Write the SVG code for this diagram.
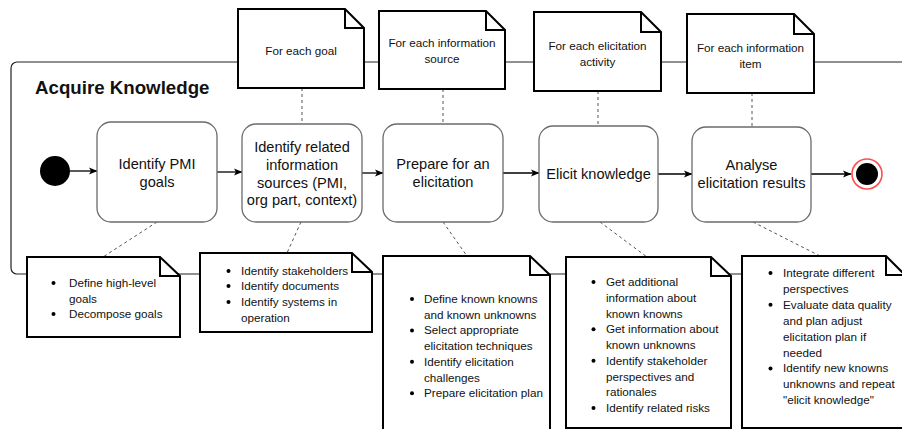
<svg xmlns="http://www.w3.org/2000/svg" width="902" height="429" viewBox="0 0 902 429">
<defs>
<style>
.container{fill:none;stroke:#222;stroke-width:1.2}
.act{fill:#fff;stroke:#6b6b6b;stroke-width:1.3}
.note{fill:#fff;stroke:#000;stroke-width:2;stroke-linejoin:miter}
.fold{fill:none;stroke:#000;stroke-width:2}
.flow{fill:none;stroke:#000;stroke-width:1.3}
.dash{fill:none;stroke:#555;stroke-width:1;stroke-dasharray:3 3}
text{font-family:"Liberation Sans",Arial,Helvetica,sans-serif;fill:#111}
.title{font-size:18.7px;font-weight:bold}
.at{font-size:14.6px;text-anchor:middle}
.nt{font-size:11.7px}
.ntc{font-size:11.7px;text-anchor:middle}
.bul{fill:#000}
</style>
<marker id="arr" markerWidth="9" markerHeight="8" refX="8" refY="4" orient="auto" markerUnits="userSpaceOnUse">
<path d="M0,0.5 L8.5,4 L0,7.5 L2,4 z" fill="#000"/>
</marker>
</defs>

<g id="container">
<rect class="container" x="11" y="62" width="1000" height="212" rx="6"/>
<text class="title" x="35" y="94">Acquire Knowledge</text>
</g>

<g id="connectors">
<line class="flow" x1="70" y1="171" x2="97" y2="171" marker-end="url(#arr)"/>
<line class="flow" x1="217" y1="172" x2="242" y2="172" marker-end="url(#arr)"/>
<line class="flow" x1="362" y1="173" x2="383" y2="173" marker-end="url(#arr)"/>
<line class="flow" x1="503" y1="173" x2="539" y2="173" marker-end="url(#arr)"/>
<line class="flow" x1="658" y1="174" x2="692" y2="174" marker-end="url(#arr)"/>
<line class="flow" x1="811" y1="174" x2="851" y2="174" marker-end="url(#arr)"/>
<line class="dash" x1="302" y1="88" x2="302" y2="124"/>
<line class="dash" x1="443" y1="89" x2="443" y2="124"/>
<line class="dash" x1="598" y1="91" x2="598" y2="126"/>
<line class="dash" x1="752" y1="93" x2="752" y2="127"/>
<line class="dash" x1="157" y1="222" x2="103" y2="257"/>
<line class="dash" x1="301" y1="222" x2="287" y2="253"/>
<line class="dash" x1="443" y1="222" x2="467" y2="256"/>
<line class="dash" x1="600" y1="222" x2="647" y2="257"/>
<line class="dash" x1="753" y1="222" x2="820" y2="256"/>
</g>

<g id="start">
<circle cx="55" cy="171" r="15" fill="#000"/>
</g>

<g id="end">
<circle cx="867" cy="174" r="15" fill="#fff" stroke="#ff4d4d" stroke-width="1.6"/>
<circle cx="867" cy="174" r="11" fill="#000"/>
</g>

<g id="act1">
<rect class="act" x="97" y="122" width="120" height="100" rx="14"/>
<text class="at" x="157" y="169">Identify PMI</text>
<text class="at" x="157" y="187">goals</text>
</g>
<g id="act2">
<rect class="act" x="242" y="124" width="120" height="98" rx="14"/>
<text class="at" x="302" y="152">Identify related</text>
<text class="at" x="302" y="170">information</text>
<text class="at" x="302" y="188">sources (PMI,</text>
<text class="at" x="302" y="205">org part, context)</text>
</g>
<g id="act3">
<rect class="act" x="383" y="124" width="120" height="98" rx="14"/>
<text class="at" x="443" y="169">Prepare for an</text>
<text class="at" x="443" y="187">elicitation</text>
</g>
<g id="act4">
<rect class="act" x="539" y="126" width="119" height="96" rx="14"/>
<text class="at" x="598.5" y="179">Elicit knowledge</text>
</g>
<g id="act5">
<rect class="act" x="692" y="127" width="119" height="95" rx="14"/>
<text class="at" x="751.5" y="170">Analyse</text>
<text class="at" x="751.5" y="188">elicitation results</text>
</g>

<g id="top1">
<path class="note" d="M238,9 H345 L364,28 V88 H238 Z"/>
<path class="fold" d="M345,9 V28 H364"/>
<text class="ntc" x="301" y="55">For each goal</text>
</g>
<g id="top2">
<path class="note" d="M379,11 H486 L505,30 V89 H379 Z"/>
<path class="fold" d="M486,11 V30 H505"/>
<text class="ntc" x="442" y="47">For each information</text>
<text class="ntc" x="442" y="63">source</text>
</g>
<g id="top3">
<path class="note" d="M534,12 H641 L661,32 V91 H534 Z"/>
<path class="fold" d="M641,12 V32 H661"/>
<text class="ntc" x="597.5" y="50">For each elicitation</text>
<text class="ntc" x="597.5" y="66">activity</text>
</g>
<g id="top4">
<path class="note" d="M687,14 H794 L814,34 V93 H687 Z"/>
<path class="fold" d="M794,14 V34 H814"/>
<text class="ntc" x="750.5" y="52">For each information</text>
<text class="ntc" x="750.5" y="68">item</text>
</g>

<g id="note1">
<path class="note" d="M27,257 H160 L180,276 V337 H27 Z"/>
<path class="fold" d="M160,257 V276 H180"/>
<circle class="bul" cx="53.5" cy="283" r="2"/>
<text class="nt" x="69" y="287">Define high-level</text>
<text class="nt" x="69" y="303">goals</text>
<circle class="bul" cx="53.5" cy="314" r="2"/>
<text class="nt" x="69" y="318">Decompose goals</text>
</g>
<g id="note2">
<path class="note" d="M200,253 H352 L372,272 V332 H200 Z"/>
<path class="fold" d="M352,253 V272 H372"/>
<circle class="bul" cx="228.5" cy="271" r="2"/>
<text class="nt" x="241" y="275">Identify stakeholders</text>
<circle class="bul" cx="228.5" cy="286" r="2"/>
<text class="nt" x="241" y="290">Identify documents</text>
<circle class="bul" cx="228.5" cy="302" r="2"/>
<text class="nt" x="241" y="306">Identify systems in</text>
<text class="nt" x="241" y="322">operation</text>
</g>
<g id="note3">
<path class="note" d="M383,256 H530 L550,275 V440 H383 Z"/>
<path class="fold" d="M530,256 V275 H550"/>
<circle class="bul" cx="412" cy="299" r="2"/>
<text class="nt" x="424" y="303">Define known knowns</text>
<text class="nt" x="424" y="318.7">and known unknowns</text>
<circle class="bul" cx="412" cy="330.4" r="2"/>
<text class="nt" x="424" y="334.4">Select appropriate</text>
<text class="nt" x="424" y="350.1">elicitation techniques</text>
<circle class="bul" cx="412" cy="361.8" r="2"/>
<text class="nt" x="424" y="365.8">Identify elicitation</text>
<text class="nt" x="424" y="381.5">challenges</text>
<circle class="bul" cx="412" cy="393.2" r="2"/>
<text class="nt" x="424" y="397.2">Prepare elicitation plan</text>
</g>
<g id="note4">
<path class="note" d="M566,257 H711 L731,276 V428 H566 Z"/>
<path class="fold" d="M711,257 V276 H731"/>
<circle class="bul" cx="593.5" cy="282" r="2"/>
<text class="nt" x="606" y="286">Get additional</text>
<text class="nt" x="606" y="301.8">information about</text>
<text class="nt" x="606" y="317.5">known knowns</text>
<circle class="bul" cx="593.5" cy="329.3" r="2"/>
<text class="nt" x="606" y="333.3">Get information about</text>
<text class="nt" x="606" y="349">known unknowns</text>
<circle class="bul" cx="593.5" cy="360.8" r="2"/>
<text class="nt" x="606" y="364.8">Identify stakeholder</text>
<text class="nt" x="606" y="380.5">perspectives and</text>
<text class="nt" x="606" y="396.3">rationales</text>
<circle class="bul" cx="593.5" cy="408" r="2"/>
<text class="nt" x="606" y="412">Identify related risks</text>
</g>
<g id="note5">
<path class="note" d="M742,256 H886 L905,275 V428 H742 Z"/>
<path class="fold" d="M886,256 V275 H905"/>
<circle class="bul" cx="770.5" cy="273" r="2"/>
<text class="nt" x="783" y="277">Integrate different</text>
<text class="nt" x="783" y="292.9">perspectives</text>
<circle class="bul" cx="770.5" cy="304.8" r="2"/>
<text class="nt" x="783" y="308.8">Evaluate data quality</text>
<text class="nt" x="783" y="324.7">and plan adjust</text>
<text class="nt" x="783" y="340.6">elicitation plan if</text>
<text class="nt" x="783" y="356.5">needed</text>
<circle class="bul" cx="770.5" cy="368.4" r="2"/>
<text class="nt" x="783" y="372.4">Identify new knowns</text>
<text class="nt" x="783" y="388.3">unknowns and repeat</text>
<text class="nt" x="783" y="404.2">"elicit knowledge"</text>
</g>
</svg>
